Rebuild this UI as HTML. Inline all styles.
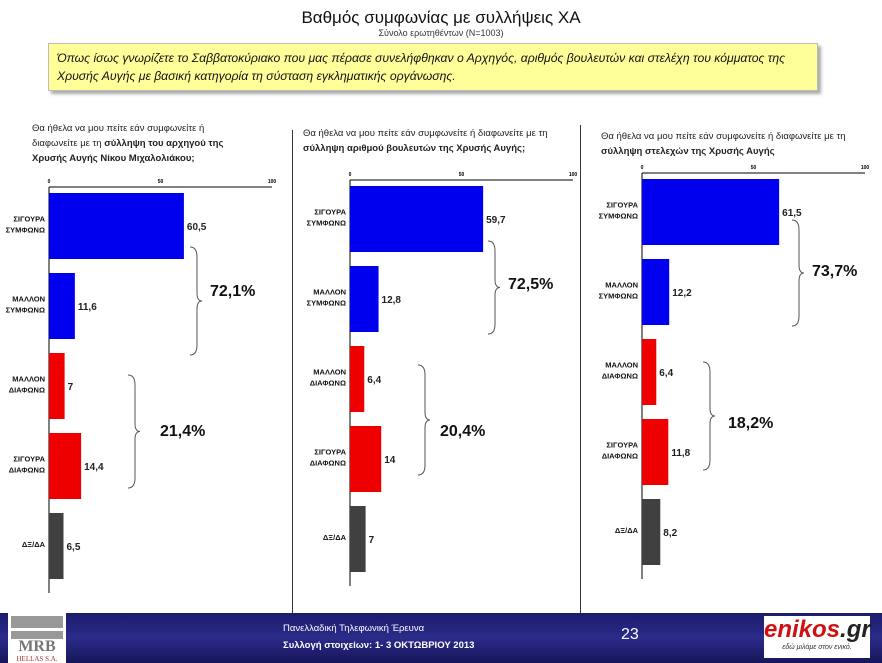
<!DOCTYPE html>
<html><head><meta charset="utf-8">
<style>
body{margin:0;width:882px;height:663px;position:relative;background:#fff;font-family:"Liberation Sans","DejaVu Sans",sans-serif;overflow:hidden}
.abs{position:absolute}
.q{font-size:9.5px;color:#222;line-height:15px}
.q b{font-weight:bold}
</style></head><body>
<div class="abs" style="left:0;width:882px;top:8px;text-align:center;font-size:17px;color:#111">Βαθμός συμφωνίας με συλλήψεις ΧΑ</div>
<div class="abs" style="left:0;width:882px;top:28px;text-align:center;font-size:9px;color:#333">Σύνολο ερωτηθέντων (Ν=1003)</div>
<div class="abs" style="left:48px;top:43px;width:770px;height:48px;background:#ffff99;border:1px solid #bbb;box-shadow:3px 3px 3px #aaa;font-style:italic;font-size:12.2px;line-height:18px;padding:5px 8px;box-sizing:border-box;color:#111">Όπως ίσως γνωρίζετε το Σαββατοκύριακο που μας πέρασε συνελήφθηκαν ο Αρχηγός, αριθμός βουλευτών και στελέχη του κόμματος της Χρυσής Αυγής με βασική κατηγορία τη σύσταση εγκληματικής οργάνωσης.</div>
<div class="abs q" style="left:32px;top:121px;width:215px">Θα ήθελα να μου πείτε εάν συμφωνείτε ή διαφωνείτε με τη <b>σύλληψη του αρχηγού της Χρυσής Αυγής Νίκου Μιχαλολιάκου;</b></div>
<div class="abs q" style="left:303px;top:126px;width:275px">Θα ήθελα να μου πείτε εάν συμφωνείτε ή διαφωνείτε με τη <b>σύλληψη αριθμού βουλευτών της Χρυσής Αυγής;</b></div>
<div class="abs q" style="left:601px;top:129px;width:275px">Θα ήθελα να μου πείτε εάν συμφωνείτε ή διαφωνείτε με τη <b>σύλληψη στελεχών της Χρυσής Αυγής</b></div>
<div class="abs" style="left:292px;top:130px;width:1px;height:483px;background:#333"></div>
<div class="abs" style="left:580px;top:125px;width:1px;height:488px;background:#333"></div>
<svg id="ch" class="abs" style="left:0;top:0" width="882" height="613"></svg>
<div class="abs" style="left:0;top:613px;width:882px;height:50px;background:linear-gradient(#1c1c6e,#2b2b8a 50%,#16165a)"></div>
<div class="abs" style="left:8px;top:613px;width:58px;height:50px;background:#fff">
<div style="margin:3px 3px 0;height:12px;background:#999"></div><div style="margin:3px 3px 0;height:8px;background:#999"></div>
<div style="text-align:center;font-family:'Liberation Serif',serif;font-weight:bold;font-size:16px;color:#777;line-height:16px">MRB</div>
<div style="text-align:center;font-family:'Liberation Serif',serif;font-size:7px;color:#a33">HELLAS S.A.</div></div>
<div class="abs" style="left:283px;top:620px;color:#fff;font-size:9.5px;line-height:17px">Πανελλαδική Τηλεφωνική Έρευνα<br><b>Συλλογή στοιχείων: 1- 3 ΟΚΤΩΒΡΙΟΥ 2013</b></div>
<div class="abs" style="left:621px;top:626px;color:#fff;font-size:16px">23</div>
<div class="abs" style="left:764px;top:616px;width:106px;height:42px;background:#fff;text-align:center">
<div style="font-weight:bold;font-style:italic;font-size:24px;color:#d01010;line-height:28px">enikos<span style="color:#222">.gr</span></div>
<div style="font-size:7px;color:#333;font-style:italic">εδώ μιλάμε στον ενικό.</div></div>
<script>
const categories=["ΣΙΓΟΥΡΑ|ΣΥΜΦΩΝΩ","ΜΑΛΛΟΝ|ΣΥΜΦΩΝΩ","ΜΑΛΛΟΝ|ΔΙΑΦΩΝΩ","ΣΙΓΟΥΡΑ|ΔΙΑΦΩΝΩ","ΔΞ/ΔΑ"];
const series1=[60.5,11.6,7,14.4,6.5];
const series2=[59.7,12.8,6.4,14,7];
const series3=[61.5,12.2,6.4,11.8,8.2];
const totals1=["72,1%","21,4%"];
const totals2=["72,5%","20,4%"];
const totals3=["73,7%","18,2%"];
const ticks=[0,50,100];
const colors=["#0000ee","#0000ee","#ee0000","#ee0000","#404040"];
const svg=document.getElementById('ch');
const NS="http://www.w3.org/2000/svg";
function mk(t,a){const e=document.createElementNS(NS,t);for(const k in a)e.setAttribute(k,a[k]);svg.appendChild(e);return e;}
function fmt(v){return String(v).replace('.',',');}
function chart(vals,tot,x0,top,idx,braces){
  const sx=v=>x0+v*2.23;
  const sy=i=>top+6+i*80;
  const ax=mk('line',{x1:x0,y1:top,x2:sx(100),y2:top,stroke:'#000','stroke-width':1});
  
  mk('line',{x1:x0,y1:top,x2:x0,y2:top+406,stroke:'#000','stroke-width':1});
  ticks.forEach(t=>{const e=mk('text',{x:sx(t),y:top-4,'font-size':5,'text-anchor':'middle','font-weight':'bold'});e.textContent=t;
    });
  vals.forEach((v,i)=>{
    const r=mk('rect',{x:x0,y:sy(i),width:sx(v)-x0,height:66,fill:colors[i]});
    
    const l=mk('text',{x:sx(v)+3,y:sy(i)+37,'font-size':10,'font-weight':'bold',fill:'#222'});l.textContent=fmt(v);
    
    const parts=categories[i].split('|');
    parts.forEach((p,j)=>{const c=mk('text',{x:x0-4,y:sy(i)+31+(j-(parts.length-1)/2)*11+3,'font-size':7.5,'font-weight':'bold','text-anchor':'end',fill:'#111'});c.textContent=p;
      });
  });
  braces.forEach((b,k)=>{
    const [bx,y1,y2,lx,ly]=b;const m=(y1+y2)/2;
    const p=mk('path',{d:`M${bx} ${y1} Q${bx+7} ${y1} ${bx+7} ${y1+10} L${bx+7} ${m-8} Q${bx+7} ${m} ${bx+12} ${m} Q${bx+7} ${m} ${bx+7} ${m+8} L${bx+7} ${y2-10} Q${bx+7} ${y2} ${bx} ${y2}`,fill:'none',stroke:'#555','stroke-width':1});
    
    const t=mk('text',{x:lx,y:ly,'font-size':16,'font-weight':'bold',fill:'#111'});t.textContent=tot[k];
    
  });
}
chart(series1,totals1,49,187,1,[[190,247,355,210,296],[128,375,488,160,436]]);
chart(series2,totals2,350,180,2,[[488,241,334,508,289],[418,365,475,440,436]]);
chart(series3,totals3,642,173,3,[[792,220,326,812,276],[703,362,470,728,428]]);
</script>
</body></html>
